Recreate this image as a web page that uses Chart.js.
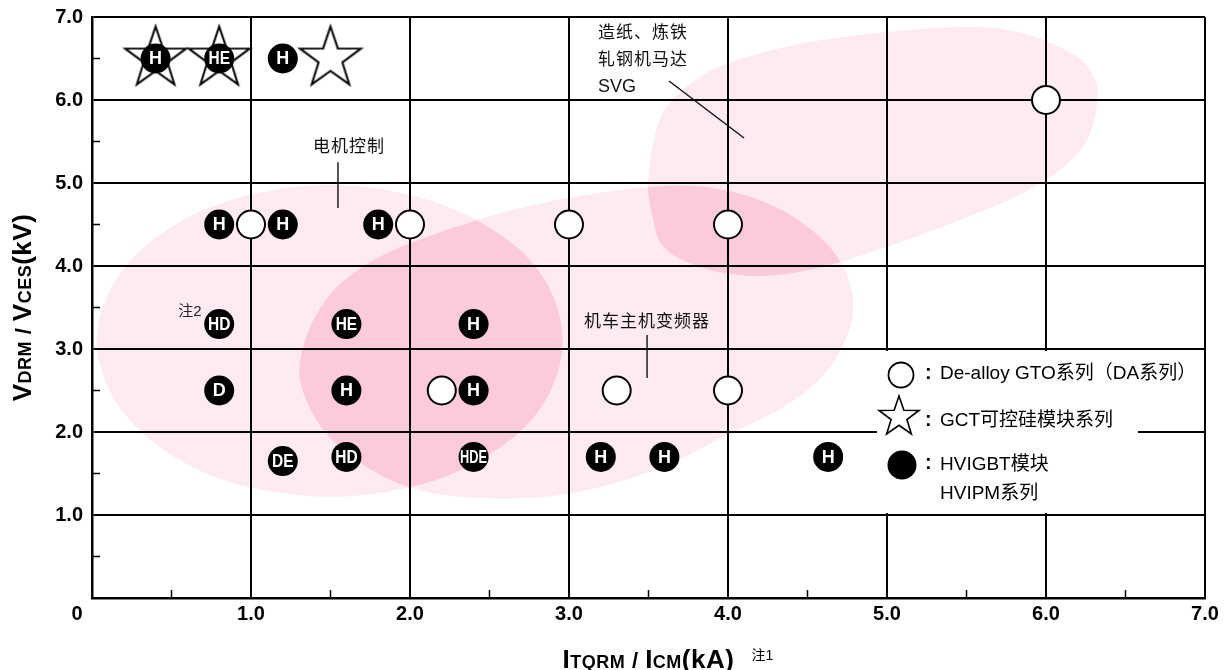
<!DOCTYPE html>
<html>
<head>
<meta charset="utf-8">
<script src="https://cdn.jsdelivr.net/npm/chart.js@4.4.0/dist/chart.umd.min.js"></script>
<style>
  html, body { margin: 0; padding: 0; background: #fff; }
  canvas { display: block; }
</style>
</head>
<body>
<canvas id="myChart" width="1226" height="670"></canvas>
<script>
// values (x: ITQRM/ICM in kA, y: VDRM/VCES in kV)
const gtoX = [1.0, 2.0, 3.0, 4.0, 2.2, 3.3, 4.0, 6.0];
const gtoY = [4.5, 4.5, 4.5, 4.5, 2.5, 2.5, 2.5, 6.0];

const gctX = [0.4, 0.8, 1.5];
const gctY = [6.5, 6.5, 6.5];

const igbtX = [0.4, 0.8, 1.2, 0.8, 1.2, 1.8, 0.8, 1.6, 2.4, 0.8, 1.6, 2.4, 1.2, 1.6, 2.4, 3.2, 3.6, 4.63];
const igbtY = [6.5, 6.5, 6.5, 4.5, 4.5, 4.5, 3.3, 3.3, 3.3, 2.5, 2.5, 2.5, 1.65, 1.7, 1.7, 1.7, 1.7, 1.7];
const igbtLabels = ['H', 'HE', 'H', 'H', 'H', 'H', 'HD', 'HE', 'H', 'D', 'H', 'H', 'DE', 'HD', 'HDE', 'H', 'H', 'H'];

const xTickLabels = ['0', '1.0', '2.0', '3.0', '4.0', '5.0', '6.0', '7.0'];
const yTickLabels = ['', '1.0', '2.0', '3.0', '4.0', '5.0', '6.0', '7.0'];

// application areas, outline points in axis units
const motorArea = [[2.96, 3.10], [2.77, 4.04], [2.23, 4.72], [1.50, 4.98], [0.76, 4.72], [0.23, 4.04],
                   [0.03, 3.10], [0.23, 2.16], [0.76, 1.47], [1.50, 1.22], [2.23, 1.47], [2.77, 2.16]];
const locoArea = [[1.31, 2.87], [1.47, 3.59], [1.81, 4.11], [2.42, 4.55], [2.94, 4.80], [3.49, 4.95],
                  [3.91, 4.94], [4.30, 4.71], [4.61, 4.29], [4.76, 3.83], [4.78, 3.35], [4.65, 2.81],
                  [4.40, 2.36], [3.99, 1.96], [3.51, 1.52], [2.94, 1.24], [2.38, 1.21], [1.94, 1.37],
                  [1.56, 1.81], [1.36, 2.33]];
const millArea = [[3.50, 5.07], [3.57, 5.76], [3.74, 6.16], [4.01, 6.45], [4.58, 6.72], [5.42, 6.88],
                  [5.84, 6.81], [6.18, 6.54], [6.31, 6.24], [6.32, 5.94], [6.26, 5.52], [6.09, 5.16],
                  [5.77, 4.80], [5.33, 4.46], [4.89, 4.16], [4.50, 3.95], [4.16, 3.88], [3.84, 3.98],
                  [3.60, 4.22], [3.52, 4.64]];

const FONT = '"Liberation Sans", "Noto Sans CJK SC", sans-serif';
const LIGHT = '#fdebf1';
const DARK = '#fbcadb';

function toPoints(xs, ys) {
  return xs.map((x, i) => ({ x: x, y: ys[i] }));
}

function starPath(ctx, cx, cy, R, r) {
  ctx.beginPath();
  for (let i = 0; i < 10; i++) {
    const a = -Math.PI / 2 + i * Math.PI / 5;
    const rad = i % 2 === 0 ? R : r;
    const x = cx + rad * Math.cos(a);
    const y = cy + rad * Math.sin(a);
    if (i === 0) ctx.moveTo(x, y); else ctx.lineTo(x, y);
  }
  ctx.closePath();
}

// star marker used as point style
const starImg = document.createElement('canvas');
starImg.width = 72;
starImg.height = 72;
{
  const c = starImg.getContext('2d');
  starPath(c, 36, 36, 32, 12.5);
  c.fillStyle = '#fff';
  c.fill();
  c.lineWidth = 2;
  c.strokeStyle = '#000';
  c.stroke();
}

function blobPath(chart, pts) {
  const xs = chart.scales.x, ys = chart.scales.y;
  const p = pts.map(q => [xs.getPixelForValue(q[0]), ys.getPixelForValue(q[1])]);
  const n = p.length;
  const path = new Path2D();
  path.moveTo(p[0][0], p[0][1]);
  for (let i = 0; i < n; i++) {
    const p0 = p[(i - 1 + n) % n], p1 = p[i], p2 = p[(i + 1) % n], p3 = p[(i + 2) % n];
    path.bezierCurveTo(
      p1[0] + (p2[0] - p0[0]) / 6, p1[1] + (p2[1] - p0[1]) / 6,
      p2[0] - (p3[0] - p1[0]) / 6, p2[1] - (p3[1] - p1[1]) / 6,
      p2[0], p2[1]);
  }
  path.closePath();
  return path;
}

const areasPlugin = {
  id: 'areas',
  beforeDraw(chart) {
    const ctx = chart.ctx, a = chart.chartArea;
    const motor = blobPath(chart, motorArea);
    const loco = blobPath(chart, locoArea);
    const mill = blobPath(chart, millArea);
    ctx.save();
    ctx.beginPath();
    ctx.rect(a.left, a.top, a.right - a.left, a.bottom - a.top);
    ctx.clip();
    ctx.fillStyle = LIGHT;
    ctx.fill(motor);
    ctx.fill(loco);
    ctx.fill(mill);
    ctx.fillStyle = DARK;
    ctx.save();
    ctx.clip(motor);
    ctx.fill(loco);
    ctx.restore();
    ctx.save();
    ctx.clip(loco);
    ctx.fill(mill);
    ctx.restore();
    ctx.restore();
  }
};

function line(ctx, x1, y1, x2, y2) {
  ctx.beginPath();
  ctx.moveTo(x1, y1);
  ctx.lineTo(x2, y2);
  ctx.stroke();
}

const notesPlugin = {
  id: 'notes',
  beforeDatasetsDraw(chart) {
    const ctx = chart.ctx, a = chart.chartArea;
    const xs = chart.scales.x, ys = chart.scales.y;
    const px = v => xs.getPixelForValue(v), py = v => ys.getPixelForValue(v);
    ctx.save();

    // minor ticks inside the plot
    ctx.strokeStyle = '#000';
    ctx.lineWidth = 1.5;
    for (let v = 0.5; v < 7; v += 1) {
      line(ctx, px(v), a.bottom, px(v), a.bottom - 8);
      line(ctx, a.left, py(v), a.left + 8, py(v));
    }

    // area labels and leader lines
    ctx.fillStyle = '#111';
    ctx.font = '17px ' + FONT;
    ctx.letterSpacing = '1px';
    ctx.textBaseline = 'middle';
    ctx.textAlign = 'center';
    ctx.fillText('电机控制', px(1.616), py(5.434));
    ctx.fillText('机车主机变频器', px(3.491), py(3.325));
    ctx.textAlign = 'left';
    ctx.fillText('造纸、炼铁', px(3.182), py(6.807));
    ctx.fillText('轧钢机马达', px(3.182), py(6.482));
    ctx.letterSpacing = '0px';
    ctx.font = '18px ' + FONT;
    ctx.fillText('SVG', px(3.182), py(6.157));
    ctx.font = '15px ' + FONT;
    ctx.textAlign = 'center';
    ctx.fillStyle = '#222';
    ctx.fillText('注2', px(0.616), py(3.446));

    ctx.strokeStyle = '#111';
    ctx.lineWidth = 1.4;
    line(ctx, px(1.547), py(5.25), px(1.547), py(4.70));
    line(ctx, px(3.491), py(3.169), px(3.491), py(2.651));
    line(ctx, px(3.629), py(6.229), px(4.101), py(5.542));

    // legend
    ctx.fillStyle = '#fff';
    ctx.fillRect(877, 351, 261, 162);
    ctx.lineWidth = 1.8;
    ctx.strokeStyle = '#000';
    ctx.beginPath();
    ctx.arc(901, 375, 12.5, 0, Math.PI * 2);
    ctx.fill();
    ctx.stroke();
    starPath(ctx, 899, 417, 21, 8.3);
    ctx.lineWidth = 1.6;
    ctx.fill();
    ctx.stroke();
    ctx.fillStyle = '#000';
    ctx.beginPath();
    ctx.arc(902, 465, 14.5, 0, Math.PI * 2);
    ctx.fill();

    ctx.fillStyle = '#000';
    ctx.textAlign = 'left';
    ctx.textBaseline = 'middle';
    ctx.font = 'bold 20px ' + FONT;
    ctx.fillText(':', 925, 373);
    ctx.fillText(':', 925, 420);
    ctx.fillText(':', 925, 463);
    ctx.font = '19px ' + FONT;
    ctx.fillText('De-alloy GTO系列（DA系列）', 940, 374);
    ctx.fillText('GCT可控硅模块系列', 940, 421);
    ctx.fillText('HVIGBT模块', 940, 465);
    ctx.fillText('HVIPM系列', 940, 494);
    ctx.restore();
  },
  afterDatasetsDraw(chart) {
    const ctx = chart.ctx;
    const meta = chart.getDatasetMeta(0);
    ctx.save();
    ctx.fillStyle = '#fff';
    ctx.textAlign = 'center';
    ctx.textBaseline = 'middle';
    ctx.font = 'bold 18px ' + FONT;
    meta.data.forEach((pt, i) => {
      const t = igbtLabels[i];
      const w = ctx.measureText(t).width;
      let sx = t.length > 1 ? 0.86 : 1;
      if (w * sx > 27) sx = 27 / w;
      ctx.save();
      ctx.translate(pt.x, pt.y + 1);
      ctx.scale(sx, 1);
      ctx.fillText(t, 0, 0);
      ctx.restore();
    });
    ctx.restore();
  },
  afterDraw(chart) {
    const ctx = chart.ctx, a = chart.chartArea;
    const xs = chart.scales.x;
    ctx.save();
    ctx.fillStyle = '#000';
    // origin label, set left of the corner
    ctx.font = 'bold 20px ' + FONT;
    ctx.textAlign = 'center';
    ctx.textBaseline = 'middle';
    ctx.fillText(xTickLabels[0], xs.getPixelForValue(0) - 15, a.bottom + 16);

    ctx.textAlign = 'left';
    ctx.textBaseline = 'alphabetic';
    ctx.letterSpacing = '0.5px';
    const runsWidth = runs => runs.reduce((s, r) => {
      ctx.font = 'bold ' + r[1] + 'px ' + FONT;
      return s + ctx.measureText(r[0]).width;
    }, 0);
    const drawRuns = (runs, x, y) => {
      let cx = x;
      runs.forEach(r => {
        ctx.font = 'bold ' + r[1] + 'px ' + FONT;
        ctx.fillText(r[0], cx, y);
        cx += ctx.measureText(r[0]).width;
      });
      return cx;
    };
    const xRuns = [['I', 26], ['TQRM', 18], [' / ', 22], ['I', 26], ['CM', 18], ['(kA)', 26]];
    const yRuns = [['V', 26], ['DRM', 18], [' / ', 22], ['V', 26], ['CES', 18], ['(kV)', 26]];

    const xw = runsWidth(xRuns);
    const xEnd = drawRuns(xRuns, (a.left + a.right) / 2 - xw / 2, 668);
    ctx.letterSpacing = '0px';
    ctx.font = '14px ' + FONT;
    ctx.fillText('注1', xEnd + 17, 660);

    ctx.letterSpacing = '0.5px';
    const yw = runsWidth(yRuns);
    ctx.translate(31, (a.top + a.bottom) / 2 + yw / 2);
    ctx.rotate(-Math.PI / 2);
    drawRuns(yRuns, 0, 0);
    ctx.restore();
  }
};

const tickFont = { family: FONT, size: 20, weight: 'bold' };
const gridColor = c => (c.tick && c.tick.value % 1 === 0) ? '#000' : 'rgba(0,0,0,0)';

new Chart(document.getElementById('myChart'), {
  type: 'scatter',
  data: {
    datasets: [
      {
        label: 'HVIGBT模块 HVIPM系列',
        data: toPoints(igbtX, igbtY),
        pointRadius: 15,
        pointHoverRadius: 15,
        backgroundColor: '#000',
        borderColor: '#000',
        borderWidth: 0
      },
      {
        label: 'De-alloy GTO系列（DA系列）',
        data: toPoints(gtoX, gtoY),
        pointRadius: 14,
        pointHoverRadius: 14,
        backgroundColor: '#fff',
        borderColor: '#000',
        borderWidth: 2
      },
      {
        label: 'GCT可控硅模块系列',
        data: toPoints(gctX, gctY),
        pointStyle: starImg,
        pointRadius: 30,
        pointHoverRadius: 30
      }
    ]
  },
  options: {
    responsive: false,
    animation: false,
    devicePixelRatio: 1,
    layout: { padding: { top: 17, right: 21, left: 0, bottom: 0 }, autoPadding: false },
    plugins: {
      legend: { display: false },
      tooltip: { enabled: false }
    },
    events: [],
    scales: {
      x: {
        type: 'linear',
        min: 0,
        max: 7,
        afterFit: s => { s.height = 72; },
        border: { display: true, color: '#000', width: 2.5 },
        grid: { color: gridColor, lineWidth: 2, drawTicks: false },
        ticks: {
          stepSize: 0.5,
          autoSkip: false,
          maxRotation: 0,
          padding: 4,
          color: '#000',
          font: tickFont,
          callback: v => (v > 0 && v % 1 === 0) ? xTickLabels[v] : ''
        }
      },
      y: {
        type: 'linear',
        min: 0,
        max: 7,
        afterFit: s => { s.width = 92; },
        border: { display: true, color: '#000', width: 2.5 },
        grid: { color: gridColor, lineWidth: 2, drawTicks: false },
        ticks: {
          stepSize: 0.5,
          autoSkip: false,
          padding: 9,
          color: '#000',
          font: { family: FONT, size: 20, weight: 'bold', lineHeight: 0.8 },
          callback: v => (v % 1 === 0) ? yTickLabels[v] : ''
        }
      }
    }
  },
  plugins: [areasPlugin, notesPlugin]
});
</script>
</body>
</html>
